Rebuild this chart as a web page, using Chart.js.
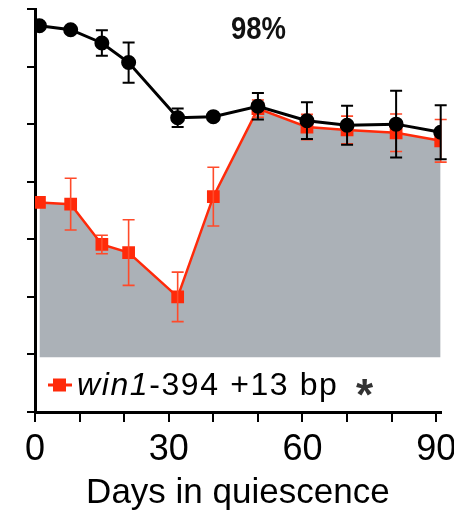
<!DOCTYPE html>
<html>
<head>
<meta charset="utf-8">
<script src="https://cdn.jsdelivr.net/npm/chart.js@4.4.1/dist/chart.umd.min.js"></script>
<style>
  html, body { margin: 0; padding: 0; background: #fff; }
  canvas { display: block; }
</style>
</head>
<body>
<canvas id="grafico" width="454" height="514"></canvas>
<script>
// dados
const dias = [1, 8, 15, 21, 32, 40, 50, 61, 70, 81, 91];
const controle = [97.1, 96.4, 94.1, 90.7, 81.1, 81.3, 83.1, 80.6, 79.8, 80.0, 78.6];
const controleErro = [0, 0, 2.2, 3.5, 1.6, 0, 2.3, 3.2, 3.4, 5.8, 4.7];
const mutante = [66.4, 66.1, 59.1, 57.7, 50.0, 67.4, 82.7, 79.5, 79.0, 78.5, 77.1];
const mutanteErro = [0, 4.5, 1.6, 5.7, 4.3, 5.1, 1.5, 2.2, 2.4, 3.25, 3.7];
const xTicks = [0, 10, 20, 30, 40, 50, 60, 70, 80, 90];
const xRotulos = [0, 30, 60, 90];
const yTicks = [30, 40, 50, 60, 70, 80, 90, 100];
const rotuloTopo = '98%';

const vermelho = '#ff2a0a';
const cinza = '#abb1b7';
const fonte = '"Liberation Sans", Arial, sans-serif';

// barras de erro desenhadas logo depois de cada série
const barrasErro = {
    id: 'barrasErro',
    afterDatasetDraw(chart, args) {
        const ds = chart.data.datasets[args.index];
        if (!ds.erro) return;
        const ctx = chart.ctx;
        const y = chart.scales.y;
        ctx.save();
        ctx.strokeStyle = ds.erroCor;
        ctx.lineWidth = ds.erroLargura;
        args.meta.data.forEach((pt, i) => {
            const e = ds.erro[i];
            if (!e) return;
            const v = ds.data[i].y;
            const y1 = y.getPixelForValue(v + e);
            const y2 = y.getPixelForValue(v - e);
            ctx.beginPath();
            ctx.moveTo(pt.x, y1); ctx.lineTo(pt.x, y2);
            ctx.moveTo(pt.x - 6, y1); ctx.lineTo(pt.x + 6, y1);
            ctx.moveTo(pt.x - 6, y2); ctx.lineTo(pt.x + 6, y2);
            ctx.stroke();
        });
        ctx.restore();
    }
};

// legenda e rótulo "98%"
const extras = {
    id: 'extras',
    afterDraw(chart) {
        const ctx = chart.ctx;
        ctx.save();
        // rótulo do topo (fonte condensada)
        ctx.fillStyle = '#111';
        ctx.font = 'bold 32px ' + fonte;
        ctx.textAlign = 'center';
        ctx.textBaseline = 'alphabetic';
        ctx.fillText(rotuloTopo, 258.5, 39, 55);

        // legenda
        const ly = 385;
        ctx.strokeStyle = vermelho;
        ctx.lineWidth = 3;
        ctx.beginPath();
        ctx.moveTo(48, ly); ctx.lineTo(72, ly);
        ctx.stroke();
        ctx.fillStyle = vermelho;
        ctx.fillRect(53, ly - 6.5, 13, 13);

        ctx.textAlign = 'left';
        ctx.fillStyle = '#000';
        ctx.letterSpacing = '1.6px';
        let x = 77;
        const base = 395;
        ctx.font = 'italic 32px ' + fonte;
        ctx.fillText('win1', x, base);
        x += ctx.measureText('win1').width;
        ctx.font = '32px ' + fonte;
        ctx.fillText('-394 +13 bp', x, base);

        ctx.letterSpacing = '0px';
        ctx.font = 'bold 44px ' + fonte;
        ctx.fillStyle = '#333';
        const m = ctx.measureText('*');
        const cy = 387;
        ctx.fillText('*', 356 + m.actualBoundingBoxLeft, cy + (m.actualBoundingBoxAscent - m.actualBoundingBoxDescent) / 2);
        ctx.restore();
    }
};

const ctx = document.getElementById('grafico').getContext('2d');

new Chart(ctx, {
    type: 'line',
    data: {
        datasets: [
            {
                label: 'controle',
                data: dias.map((d, i) => ({ x: d, y: controle[i] })),
                borderColor: '#000',
                backgroundColor: '#000',
                borderWidth: 3,
                pointRadius: 6,
                pointHoverRadius: 6,
                pointStyle: 'circle',
                fill: false,
                erro: controleErro,
                erroCor: '#000',
                erroLargura: 2
            },
            {
                label: 'win1-394 +13 bp',
                data: dias.map((d, i) => ({ x: d, y: mutante[i] })),
                borderColor: vermelho,
                backgroundColor: cinza,
                pointBackgroundColor: vermelho,
                pointBorderColor: vermelho,
                borderWidth: 2.5,
                pointRadius: 9,
                pointHoverRadius: 9,
                pointBorderWidth: 0,
                pointStyle: 'rect',
                fill: { value: 39.5 },
                erro: mutanteErro,
                erroCor: '#ff4a2a',
                erroLargura: 1.6
            }
        ]
    },
    options: {
        responsive: false,
        animation: false,
        layout: { padding: { top: 7, right: 13.3, left: 0, bottom: 0 } },
        plugins: {
            legend: { display: false },
            tooltip: { enabled: false }
        },
        scales: {
            x: {
                type: 'linear',
                min: 0,
                max: 91,
                afterBuildTicks: s => { s.ticks = xTicks.map(v => ({ value: v })); },
                afterFit: s => { s.height = 102; s.paddingLeft = 0; s.paddingRight = 0; },
                border: { color: '#000', width: 3 },
                grid: { drawOnChartArea: false, drawTicks: true, tickLength: 10, color: '#000', lineWidth: 2 },
                ticks: {
                    padding: 6,
                    color: '#000',
                    maxRotation: 0,
                    autoSkip: false,
                    font: { family: fonte, size: 36 },
                    callback: v => xRotulos.includes(v) ? String(v) : ''
                },
                title: {
                    display: true,
                    text: 'Days in quiescence',
                    color: '#000',
                    font: { family: fonte, size: 35 },
                    padding: { top: 0, bottom: 0 }
                }
            },
            y: {
                min: 30,
                max: 100,
                afterBuildTicks: s => { s.ticks = yTicks.map(v => ({ value: v })); },
                afterFit: s => { s.width = 35; s.paddingTop = 0; s.paddingBottom = 0; },
                border: { color: '#000', width: 3 },
                grid: { drawOnChartArea: false, drawTicks: true, tickLength: 8, color: '#000', lineWidth: 2 },
                ticks: { display: false }
            }
        }
    },
    plugins: [barrasErro, extras]
});
</script>
</body>
</html>
